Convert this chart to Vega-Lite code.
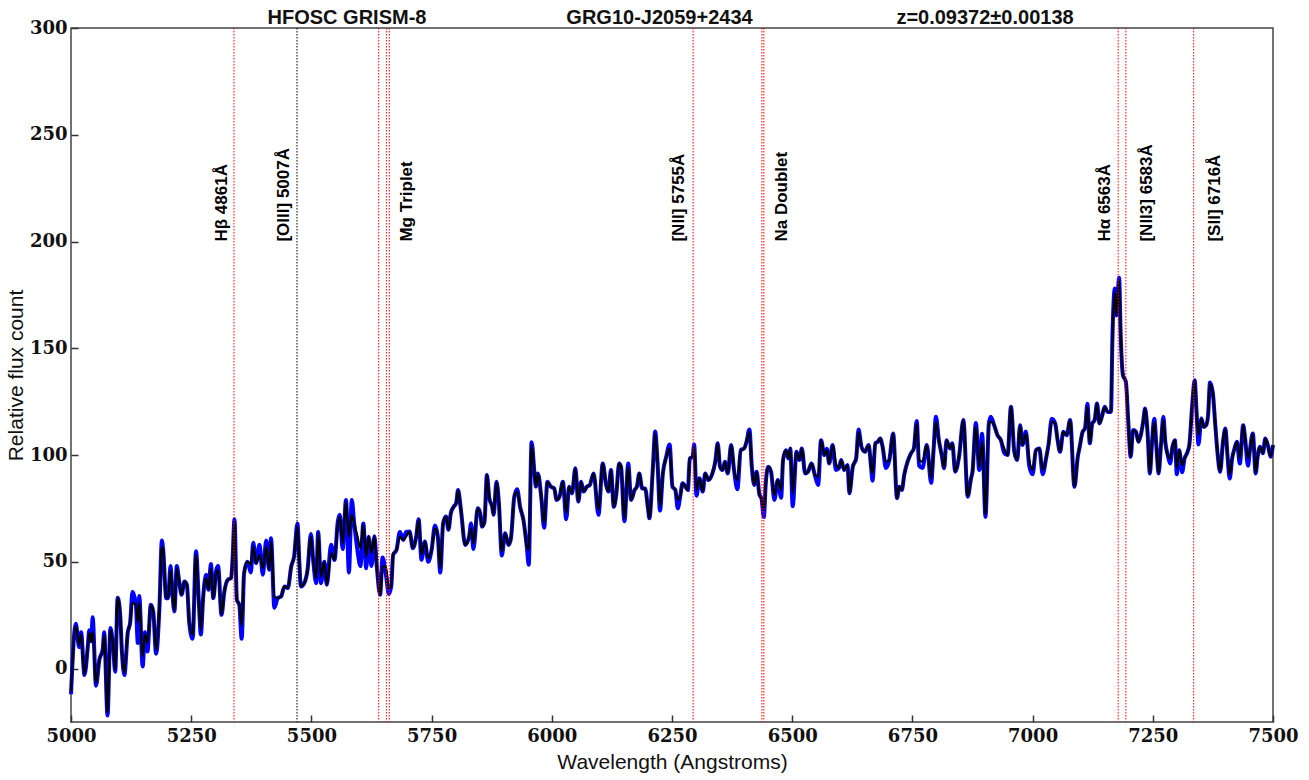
{
"$schema":"https://vega.github.io/schema/vega-lite/v6.json",
"width":1202,"height":694,
"autosize":"none",
"padding":{"left":71,"top":28,"right":36,"bottom":58},
"background":"white",
"config":{"view":{"stroke":"#444444","strokeWidth":1.5},
"axis":{"domain":false,"grid":false,"tickColor":"#333333","tickSize":7,"tickWidth":1.5,"offset":-7,"labelFont":"DejaVu Serif","labelFontWeight":"bold","labelFontSize":18,"labelColor":"#111111","titleFont":"Liberation Sans","titleFontWeight":"normal","titleFontSize":21,"titleColor":"#111111","labelFlush":false,"labelOverlap":false}},
"datasets":{
"spec":[
{"w":5000,"s":-10.6,"r":-12},{"w":5010,"s":19.8,"r":21},{"w":5017,"s":11.2,"r":10},{"w":5021,"s":15.9,"r":17},{"w":5028,"s":-2.8,"r":-3},{"w":5035,"s":10.4,"r":10.4},{"w":5038,"s":16.8,"r":18},{"w":5042,"s":12.8,"r":12.8},{"w":5045,"s":17,"r":24},{"w":5052,"s":-6.7,"r":-8},{"w":5059,"s":4.2,"r":4.2},{"w":5066,"s":8.1,"r":9},{"w":5069,"s":15.9,"r":17},{"w":5076,"s":-20.6,"r":-22},{"w":5082,"s":18.2,"r":19},{"w":5087,"s":12.1,"r":12.1},{"w":5092,"s":-0.5,"r":-1.5},{"w":5097,"s":33.2,"r":33.2},{"w":5102,"s":26.2,"r":26.2},{"w":5106,"s":7.5,"r":7.5},{"w":5111,"s":-1.9,"r":-3},{"w":5118,"s":16.8,"r":16.8},{"w":5123,"s":21.5,"r":21.5},{"w":5128,"s":30.8,"r":36},{"w":5135,"s":29.9,"r":29.9},{"w":5139,"s":21.5,"r":12},{"w":5142,"s":30.8,"r":34},{"w":5149,"s":5.8,"r":1},{"w":5154,"s":15.9,"r":17},{"w":5159,"s":12.1,"r":8},{"w":5166,"s":29.9,"r":29.9},{"w":5171,"s":26.8,"r":26.8},{"w":5177,"s":8.9,"r":7},{"w":5184,"s":29.1,"r":29.1},{"w":5189,"s":57.2,"r":60},{"w":5192,"s":54.8,"r":54.8},{"w":5198,"s":33.8,"r":33},{"w":5202,"s":33,"r":33},{"w":5207,"s":46.3,"r":48},{"w":5210,"s":38.5,"r":38.5},{"w":5215,"s":26.8,"r":26.8},{"w":5220,"s":47,"r":48},{"w":5225,"s":40.8,"r":40.8},{"w":5230,"s":34.6,"r":34.6},{"w":5236,"s":40.8,"r":40.8},{"w":5241,"s":39.3,"r":39.3},{"w":5246,"s":21.4,"r":21.4},{"w":5253,"s":15.9,"r":14},{"w":5260,"s":53.3,"r":55},{"w":5266,"s":30.7,"r":30.7},{"w":5270,"s":18.2,"r":16},{"w":5275,"s":33.8,"r":33.8},{"w":5281,"s":42.4,"r":44},{"w":5286,"s":36.9,"r":36.9},{"w":5291,"s":47,"r":49},{"w":5296,"s":33,"r":33},{"w":5302,"s":44.7,"r":46},{"w":5306,"s":46.3,"r":48},{"w":5313,"s":25.2,"r":25.2},{"w":5319,"s":36.1,"r":36.1},{"w":5326,"s":41.6,"r":41.6},{"w":5333,"s":42.4,"r":42.4},{"w":5336,"s":50.9,"r":50.9},{"w":5340,"s":68.8,"r":70},{"w":5345,"s":32.2,"r":32.2},{"w":5350,"s":29.9,"r":29.9},{"w":5355,"s":20,"r":14},{"w":5360,"s":44.7,"r":44.7},{"w":5367,"s":50.1,"r":50.1},{"w":5374,"s":48.6,"r":45},{"w":5379,"s":57.2,"r":59},{"w":5385,"s":49.4,"r":49.4},{"w":5392,"s":53.3,"r":58},{"w":5399,"s":47,"r":44},{"w":5406,"s":57,"r":60},{"w":5412,"s":46.3,"r":46.3},{"w":5416,"s":59.5,"r":61},{"w":5423,"s":33.8,"r":28.5},{"w":5430,"s":33,"r":33},{"w":5437,"s":33.8,"r":33.8},{"w":5444,"s":38.5,"r":38.5},{"w":5451,"s":37.7,"r":37.7},{"w":5458,"s":47.8,"r":47.8},{"w":5464,"s":52.5,"r":52.5},{"w":5471,"s":66.5,"r":68},{"w":5475,"s":49.4,"r":49.4},{"w":5478,"s":38.5,"r":38.5},{"w":5485,"s":40,"r":40},{"w":5492,"s":46.3,"r":46.3},{"w":5499,"s":61.8,"r":63},{"w":5504,"s":50.1,"r":50.1},{"w":5510,"s":42.4,"r":40},{"w":5514,"s":63.4,"r":64},{"w":5520,"s":43.1,"r":40},{"w":5527,"s":50.1,"r":50.1},{"w":5532,"s":39.3,"r":39.3},{"w":5541,"s":54.1,"r":58},{"w":5548,"s":50.9,"r":50.9},{"w":5555,"s":67.3,"r":69},{"w":5559,"s":71.2,"r":72},{"w":5565,"s":58.7,"r":56},{"w":5572,"s":78.2,"r":79},{"w":5578,"s":61.8,"r":45},{"w":5584,"s":72,"r":79},{"w":5589,"s":68.1,"r":68.1},{"w":5596,"s":61.8,"r":55},{"w":5602,"s":56.4,"r":48},{"w":5608,"s":67.3,"r":68},{"w":5614,"s":52.5,"r":47},{"w":5619,"s":61.8,"r":61.8},{"w":5625,"s":54.1,"r":48},{"w":5631,"s":61.8,"r":62},{"w":5636,"s":47.8,"r":47.8},{"w":5643,"s":34.6,"r":34.6},{"w":5648,"s":47.8,"r":52},{"w":5655,"s":47.8,"r":44},{"w":5661,"s":37.7,"r":35},{"w":5666,"s":38.5,"r":38.5},{"w":5670,"s":53.3,"r":53.3},{"w":5677,"s":55.6,"r":55.6},{"w":5684,"s":61.8,"r":64},{"w":5691,"s":60.3,"r":60.3},{"w":5697,"s":61.8,"r":64},{"w":5704,"s":64.2,"r":64.2},{"w":5711,"s":56.4,"r":56.4},{"w":5718,"s":61.8,"r":61.8},{"w":5723,"s":69.6,"r":70},{"w":5729,"s":53.3,"r":51},{"w":5736,"s":59.5,"r":59.5},{"w":5743,"s":51.7,"r":50},{"w":5750,"s":55.6,"r":55.6},{"w":5757,"s":65.7,"r":67},{"w":5763,"s":61.8,"r":61.8},{"w":5768,"s":47,"r":45},{"w":5774,"s":68.1,"r":68.1},{"w":5780,"s":71.2,"r":71.2},{"w":5785,"s":65,"r":65},{"w":5790,"s":72.8,"r":72.8},{"w":5796,"s":75.8,"r":75.8},{"w":5801,"s":77.4,"r":77.4},{"w":5805,"s":83.6,"r":83.6},{"w":5811,"s":74.3,"r":74.3},{"w":5820,"s":57.9,"r":57.9},{"w":5828,"s":61.8,"r":61.8},{"w":5832,"s":65.7,"r":68},{"w":5837,"s":58.7,"r":56},{"w":5846,"s":75.1,"r":75.1},{"w":5851,"s":72.8,"r":72.8},{"w":5855,"s":66.5,"r":66.5},{"w":5860,"s":68.8,"r":68.8},{"w":5865,"s":90.7,"r":90.7},{"w":5870,"s":79.8,"r":79.8},{"w":5876,"s":75.8,"r":75.8},{"w":5879,"s":72,"r":72},{"w":5885,"s":87.5,"r":87.5},{"w":5890,"s":77.4,"r":77.4},{"w":5896,"s":54.8,"r":53},{"w":5903,"s":63.4,"r":63.4},{"w":5910,"s":57.9,"r":57.9},{"w":5915,"s":61,"r":61},{"w":5922,"s":80.5,"r":80.5},{"w":5928,"s":82.9,"r":84},{"w":5934,"s":75.8,"r":75.8},{"w":5941,"s":69.6,"r":69.6},{"w":5948,"s":57.2,"r":57.2},{"w":5952,"s":55.6,"r":48.6},{"w":5958,"s":104.7,"r":106},{"w":5964,"s":91.4,"r":91.4},{"w":5967,"s":85.2,"r":85.2},{"w":5971,"s":91.4,"r":91.4},{"w":5978,"s":80.5,"r":80.5},{"w":5984,"s":68.1,"r":66},{"w":5991,"s":87.5,"r":87.5},{"w":5998,"s":85.2,"r":85.2},{"w":6005,"s":84.4,"r":84.4},{"w":6010,"s":79,"r":79},{"w":6016,"s":80.5,"r":80.5},{"w":6023,"s":87.5,"r":87.5},{"w":6030,"s":72.8,"r":70},{"w":6036,"s":85.2,"r":85.2},{"w":6042,"s":82.1,"r":82.1},{"w":6049,"s":93.8,"r":93.8},{"w":6055,"s":78.2,"r":78.2},{"w":6061,"s":87.5,"r":87.5},{"w":6066,"s":82.9,"r":82.9},{"w":6073,"s":85.2,"r":85.2},{"w":6079,"s":86,"r":86},{"w":6087,"s":91.4,"r":91.4},{"w":6097,"s":74.3,"r":72},{"w":6106,"s":96.1,"r":96.1},{"w":6113,"s":86,"r":86},{"w":6118,"s":82.9,"r":82.9},{"w":6123,"s":93,"r":93},{"w":6129,"s":75.8,"r":75.8},{"w":6134,"s":81.3,"r":81.3},{"w":6140,"s":96.1,"r":96.1},{"w":6144,"s":94.5,"r":94.5},{"w":6151,"s":70.4,"r":69},{"w":6159,"s":94.5,"r":96},{"w":6165,"s":79,"r":79},{"w":6172,"s":83.6,"r":83.6},{"w":6177,"s":85.2,"r":85.2},{"w":6182,"s":91.4,"r":91.4},{"w":6188,"s":84.4,"r":84.4},{"w":6194,"s":84.4,"r":84.4},{"w":6200,"s":75.1,"r":75.1},{"w":6203,"s":70.4,"r":70.4},{"w":6210,"s":93,"r":93},{"w":6215,"s":110.1,"r":111},{"w":6220,"s":96.1,"r":96.1},{"w":6225,"s":75.8,"r":74},{"w":6231,"s":91.4,"r":91.4},{"w":6238,"s":99.2,"r":99.2},{"w":6245,"s":103.1,"r":105},{"w":6251,"s":85.2,"r":85.2},{"w":6257,"s":83.6,"r":83.6},{"w":6262,"s":79,"r":75},{"w":6267,"s":80.5,"r":80.5},{"w":6272,"s":86.8,"r":86.8},{"w":6278,"s":85.2,"r":85.2},{"w":6283,"s":83.6,"r":83.6},{"w":6287,"s":98.4,"r":98.4},{"w":6293,"s":99.2,"r":99.2},{"w":6296,"s":103.9,"r":105},{"w":6301,"s":83.6,"r":81},{"w":6307,"s":89.1,"r":89.1},{"w":6314,"s":82.9,"r":82.9},{"w":6319,"s":91.4,"r":91.4},{"w":6326,"s":88.3,"r":88.3},{"w":6333,"s":90.7,"r":90.7},{"w":6340,"s":96.9,"r":96.9},{"w":6345,"s":105.5,"r":105.5},{"w":6350,"s":94.5,"r":94.5},{"w":6355,"s":93,"r":93},{"w":6360,"s":96.9,"r":96.9},{"w":6366,"s":91.4,"r":91.4},{"w":6373,"s":104.7,"r":104.7},{"w":6379,"s":93,"r":93},{"w":6386,"s":88.3,"r":84},{"w":6393,"s":102.3,"r":102.3},{"w":6400,"s":103.1,"r":103.1},{"w":6405,"s":106.2,"r":106.2},{"w":6411,"s":110.9,"r":112},{"w":6416,"s":94.5,"r":94.5},{"w":6421,"s":86,"r":86},{"w":6426,"s":92.2,"r":92.2},{"w":6432,"s":81.3,"r":81.3},{"w":6436,"s":79.8,"r":79.8},{"w":6441,"s":74.3,"r":71},{"w":6445,"s":86.8,"r":86.8},{"w":6450,"s":94.5,"r":94.5},{"w":6456,"s":92.2,"r":92.2},{"w":6463,"s":81.3,"r":79},{"w":6470,"s":88.3,"r":88.3},{"w":6477,"s":83.6,"r":80},{"w":6481,"s":97.7,"r":97.7},{"w":6487,"s":102.3,"r":102.3},{"w":6492,"s":98.4,"r":98.4},{"w":6496,"s":103.1,"r":103.1},{"w":6501,"s":82.1,"r":76},{"w":6509,"s":101.5,"r":101.5},{"w":6515,"s":97.7,"r":97.7},{"w":6520,"s":103.1,"r":103.1},{"w":6527,"s":91.4,"r":91.4},{"w":6533,"s":92.2,"r":92.2},{"w":6540,"s":96.1,"r":96.1},{"w":6547,"s":90.7,"r":90.7},{"w":6554,"s":89.9,"r":86},{"w":6560,"s":107,"r":107},{"w":6567,"s":100,"r":100},{"w":6572,"s":102.3,"r":103},{"w":6577,"s":96.1,"r":96.1},{"w":6584,"s":104.7,"r":104.7},{"w":6591,"s":96.1,"r":93},{"w":6597,"s":93.8,"r":93.8},{"w":6602,"s":97.7,"r":97.7},{"w":6608,"s":93,"r":93},{"w":6615,"s":95.3,"r":95.3},{"w":6619,"s":82.1,"r":82.1},{"w":6626,"s":94.5,"r":94.5},{"w":6633,"s":98.4,"r":98.4},{"w":6638,"s":110.9,"r":112},{"w":6644,"s":103.9,"r":103.9},{"w":6651,"s":101.5,"r":101.5},{"w":6659,"s":104.7,"r":104.7},{"w":6664,"s":94.5,"r":94.5},{"w":6667,"s":91.4,"r":88},{"w":6673,"s":105.5,"r":105.5},{"w":6678,"s":106.2,"r":106.2},{"w":6683,"s":107.8,"r":107.8},{"w":6688,"s":103.9,"r":103.9},{"w":6695,"s":96.9,"r":94},{"w":6702,"s":97.7,"r":97.7},{"w":6710,"s":110.1,"r":110.1},{"w":6718,"s":79.8,"r":79.8},{"w":6723,"s":85.2,"r":85.2},{"w":6728,"s":83.6,"r":83.6},{"w":6733,"s":90.7,"r":90.7},{"w":6740,"s":96.9,"r":96.9},{"w":6747,"s":100.8,"r":100.8},{"w":6753,"s":103.1,"r":103.1},{"w":6759,"s":114.8,"r":116},{"w":6764,"s":97.7,"r":95},{"w":6771,"s":96.9,"r":94},{"w":6780,"s":104.7,"r":104.7},{"w":6789,"s":89.1,"r":87},{"w":6794,"s":102.3,"r":102.3},{"w":6799,"s":115.6,"r":118},{"w":6805,"s":107,"r":107},{"w":6811,"s":100,"r":100},{"w":6816,"s":93.8,"r":93.8},{"w":6821,"s":107,"r":107},{"w":6828,"s":103.1,"r":103.1},{"w":6833,"s":105.5,"r":105.5},{"w":6839,"s":92.2,"r":92.2},{"w":6847,"s":99.2,"r":99.2},{"w":6856,"s":116.4,"r":116.4},{"w":6865,"s":80.5,"r":80.5},{"w":6872,"s":89.1,"r":89.1},{"w":6875,"s":92.2,"r":92.2},{"w":6882,"s":113.2,"r":115},{"w":6889,"s":94.5,"r":93},{"w":6895,"s":106.2,"r":110},{"w":6902,"s":72,"r":71},{"w":6909,"s":114.8,"r":114.8},{"w":6913,"s":115.6,"r":118},{"w":6920,"s":114,"r":114},{"w":6927,"s":109.3,"r":109.3},{"w":6934,"s":107,"r":107},{"w":6941,"s":103.1,"r":101},{"w":6948,"s":100,"r":100},{"w":6955,"s":122.6,"r":122.6},{"w":6962,"s":101.5,"r":101.5},{"w":6968,"s":97.7,"r":97.7},{"w":6974,"s":114,"r":114},{"w":6979,"s":104.7,"r":104.7},{"w":6986,"s":110.1,"r":111},{"w":6993,"s":97.7,"r":95},{"w":7000,"s":93,"r":91},{"w":7007,"s":102.3,"r":102.3},{"w":7014,"s":103.1,"r":103.1},{"w":7021,"s":93,"r":91},{"w":7028,"s":98.4,"r":98.4},{"w":7033,"s":104.7,"r":104.7},{"w":7040,"s":115.6,"r":117},{"w":7047,"s":114.8,"r":114.8},{"w":7052,"s":107,"r":107},{"w":7057,"s":101.5,"r":101.5},{"w":7064,"s":110.9,"r":110.9},{"w":7071,"s":109.3,"r":109.3},{"w":7078,"s":116.4,"r":116.4},{"w":7087,"s":85.2,"r":85.2},{"w":7094,"s":99.2,"r":99.2},{"w":7098,"s":103.9,"r":103.9},{"w":7104,"s":110.9,"r":110.9},{"w":7109,"s":112.5,"r":112.5},{"w":7114,"s":122.6,"r":124},{"w":7119,"s":105.5,"r":105.5},{"w":7124,"s":114.8,"r":114.8},{"w":7129,"s":116.4,"r":116.4},{"w":7134,"s":124.2,"r":124.2},{"w":7139,"s":114.8,"r":114.8},{"w":7144,"s":117.9,"r":117.9},{"w":7150,"s":122.6,"r":122.6},{"w":7156,"s":120.2,"r":120.2},{"w":7163,"s":120.2,"r":120.2},{"w":7166,"s":154.5,"r":154.5},{"w":7171,"s":176.3,"r":178},{"w":7174,"s":165.4,"r":165.4},{"w":7180,"s":181.8,"r":183},{"w":7183,"s":157.6,"r":157.6},{"w":7188,"s":137.4,"r":137.4},{"w":7194,"s":134.3,"r":134.3},{"w":7199,"s":115.6,"r":115.6},{"w":7204,"s":99.2,"r":99.2},{"w":7209,"s":111.7,"r":111.7},{"w":7215,"s":110.9,"r":110.9},{"w":7220,"s":106.2,"r":106.2},{"w":7225,"s":109.3,"r":109.3},{"w":7230,"s":115.6,"r":115.6},{"w":7234,"s":121.8,"r":121.8},{"w":7239,"s":110.9,"r":110.9},{"w":7244,"s":91.4,"r":91.4},{"w":7248,"s":104.7,"r":104.7},{"w":7253,"s":115.6,"r":117},{"w":7258,"s":102.3,"r":102.3},{"w":7262,"s":91.4,"r":91.4},{"w":7267,"s":104.7,"r":104.7},{"w":7272,"s":116.4,"r":118},{"w":7276,"s":106.2,"r":106.2},{"w":7281,"s":100,"r":100},{"w":7286,"s":98.4,"r":96},{"w":7291,"s":103.9,"r":103.9},{"w":7296,"s":107,"r":107},{"w":7300,"s":93.8,"r":91},{"w":7305,"s":102.3,"r":102.3},{"w":7311,"s":95.3,"r":92},{"w":7316,"s":98.4,"r":98.4},{"w":7321,"s":100.8,"r":100.8},{"w":7326,"s":104.7,"r":104.7},{"w":7332,"s":123.4,"r":123.4},{"w":7337,"s":135,"r":135},{"w":7341,"s":120.2,"r":120.2},{"w":7345,"s":109.3,"r":105},{"w":7351,"s":117.1,"r":117.1},{"w":7356,"s":113.2,"r":113.2},{"w":7361,"s":114,"r":114},{"w":7365,"s":118.7,"r":118.7},{"w":7369,"s":133.5,"r":134},{"w":7375,"s":128.8,"r":128.8},{"w":7380,"s":114,"r":114},{"w":7385,"s":100,"r":100},{"w":7390,"s":92.2,"r":92.2},{"w":7396,"s":106.2,"r":106.2},{"w":7401,"s":112.5,"r":112.5},{"w":7405,"s":100.8,"r":100.8},{"w":7410,"s":90.7,"r":89},{"w":7415,"s":98.4,"r":98.4},{"w":7420,"s":103.1,"r":103.1},{"w":7425,"s":106.2,"r":106.2},{"w":7431,"s":98.4,"r":96},{"w":7438,"s":114,"r":114},{"w":7442,"s":107.8,"r":107.8},{"w":7448,"s":98.4,"r":95},{"w":7452,"s":102.3,"r":102.3},{"w":7458,"s":110.1,"r":110.1},{"w":7464,"s":91.4,"r":91.4},{"w":7468,"s":99.2,"r":99.2},{"w":7473,"s":103.9,"r":103.9},{"w":7479,"s":100.8,"r":100.8},{"w":7484,"s":107.8,"r":107.8},{"w":7490,"s":103.9,"r":103.9},{"w":7495,"s":99.2,"r":99.2},{"w":7500,"s":104.7,"r":104.7}
],
"lines":[{"w":5339,"c":"red"},{"w":5470,"c":"black"},{"w":5640,"c":"red"},{"w":5656,"c":"red"},{"w":5662,"c":"red"},{"w":6294,"c":"red"},{"w":6437,"c":"red"},{"w":6441,"c":"red"},{"w":7178,"c":"red"},{"w":7194,"c":"red"},{"w":7335,"c":"red"}],
"labels":[{"w":5314,"y":200,"t":"Hβ 4861Å"},{"w":5443,"y":200,"t":"[OIII] 5007Å"},{"w":5699,"y":200,"t":"Mg Triplet"},{"w":6265,"y":200,"t":"[NII] 5755Å"},{"w":6479,"y":200,"t":"Na Doublet"},{"w":7150,"y":200,"t":"Hα 6563Å"},{"w":7238,"y":200,"t":"[NII3] 6583Å"},{"w":7379,"y":200,"t":"[SII] 6716Å"}],
"heads":[{"w":5574,"y":301.9,"t":"HFOSC GRISM-8"},{"w":6224,"y":301.9,"t":"GRG10-J2059+2434"},{"w":6901,"y":301.9,"t":"z=0.09372±0.00138"}]
},
"layer":[
{"data":{"name":"spec"},"mark":{"type":"line","color":"#0000ff","strokeWidth":4,"interpolate":"monotone"},
"encoding":{"x":{"field":"w","type":"quantitative","scale":{"domain":[5000,7500],"nice":false,"zero":false},"axis":{"values":[5000,5250,5500,5750,6000,6250,6500,6750,7000,7250,7500],"format":"d","title":"Wavelength (Angstroms)","labelPadding":5,"titlePadding":6}},
"y":{"field":"r","type":"quantitative","scale":{"domain":[-25,300],"nice":false,"zero":false},"axis":{"values":[0,50,100,150,200,250,300],"format":"d","title":"Relative flux count","labelPadding":4,"titlePadding":3}}}},
{"data":{"name":"spec"},"mark":{"type":"line","color":"#000000","strokeWidth":2.2,"interpolate":"monotone"},
"encoding":{"x":{"field":"w","type":"quantitative"},"y":{"field":"s","type":"quantitative"}}},
{"data":{"name":"lines"},"mark":{"type":"rule","strokeWidth":1,"strokeDash":[1.5,1.5]},
"encoding":{"x":{"field":"w","type":"quantitative"},"color":{"field":"c","type":"nominal","scale":{"domain":["red","black"],"range":["#ff0000","#000000"]},"legend":null}}},
{"data":{"name":"labels"},"mark":{"type":"text","angle":270,"align":"left","baseline":"middle","font":"Liberation Sans","fontWeight":"bold","fontSize":17,"color":"#000000"},
"encoding":{"x":{"field":"w","type":"quantitative"},"y":{"field":"y","type":"quantitative"},"text":{"field":"t"}}},
{"data":{"name":"heads"},"mark":{"type":"text","align":"center","baseline":"alphabetic","font":"Liberation Sans","fontWeight":"bold","fontSize":20,"color":"#111111"},
"encoding":{"x":{"field":"w","type":"quantitative"},"y":{"field":"y","type":"quantitative"},"text":{"field":"t"}}}
]
}
